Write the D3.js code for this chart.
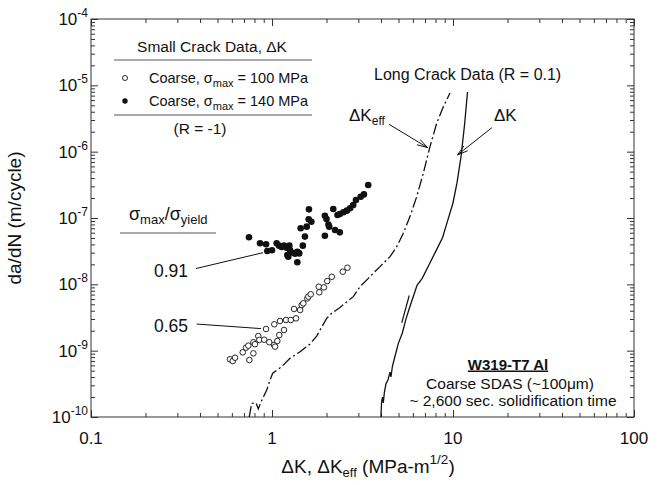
<!DOCTYPE html>
<html>
<head>
<meta charset="utf-8">
<script src="https://cdn.jsdelivr.net/npm/d3@7"></script>
<style>
  body { margin: 0; background: #fff; }
  text { font-family: "Liberation Sans", Arial, Helvetica, sans-serif; fill: #111; }
</style>
</head>
<body>
<svg id="chart" width="661" height="485"></svg>
<script>
// small crack data, sigma_max = 100 MPa (open circles)
var openK = [0.586, 0.607, 0.625, 0.689, 0.718, 0.74, 0.789, 0.75, 0.789, 0.805, 0.84, 0.851, 0.906,
  0.927, 0.966, 1.026, 1.04, 1.07, 1.097, 1.165, 1.03, 1.107, 1.195, 1.27, 1.357, 1.324, 1.43, 1.459,
  1.49, 1.567, 1.588, 1.636, 1.812, 1.825, 1.936, 2.02, 2.14, 2.46, 2.61];
var openRate = [7.41e-10, 6.98e-10, 7.83e-10, 9.44e-10, 1.11e-9, 1.19e-9, 9.12e-10, 7.23e-10, 1.34e-9,
  1.25e-9, 1.66e-9, 1.45e-9, 1.46e-9, 2.12e-9, 1.34e-9, 1.22e-9, 1.15e-9, 1.4e-9, 1.72e-9, 2.05e-9,
  2.5e-9, 2.8e-9, 2.9e-9, 2.9e-9, 3.07e-9, 4.25e-9, 4.1e-9, 4.88e-9, 5.17e-9, 6.15e-9, 6.52e-9,
  7.08e-9, 9.2e-9, 7.59e-9, 9.0e-9, 1.12e-8, 1.3e-8, 1.55e-8, 1.78e-8];

// small crack data, sigma_max = 140 MPa (filled circles)
var filledK = [0.746, 0.859, 0.927, 0.942, 1.0, 1.061, 1.093, 1.13, 1.165, 1.205, 1.247, 1.257, 1.30,
  1.215, 1.23, 1.34, 1.38, 1.415, 1.38, 1.48, 1.52, 1.44, 1.555, 1.60, 1.595, 1.65, 1.96, 1.96, 2.0,
  2.05, 2.07, 2.18, 2.23, 2.37, 2.3, 2.37, 2.48, 2.59, 2.70, 2.81, 2.91, 3.09, 3.22, 3.40];
var filledRate = [5.12e-8, 4.16e-8, 4.01e-8, 3.18e-8, 3.26e-8, 4.16e-8, 3.83e-8, 3.66e-8, 3.83e-8,
  3.57e-8, 3.83e-8, 3.3e-8, 3.0e-8, 2.77e-8, 2.61e-8, 2.9e-8, 3.1e-8, 2.93e-8, 2.15e-8, 3.83e-8,
  5.24e-8, 6.99e-8, 7.4e-8, 1.35e-7, 9.55e-8, 8.8e-8, 5.4e-8, 1.08e-7, 9.66e-8, 8.0e-8, 7.4e-8,
  1.37e-7, 6.6e-8, 6.08e-8, 1.11e-7, 1.15e-7, 1.22e-7, 1.29e-7, 1.40e-7, 1.57e-7, 1.87e-7, 2.09e-7,
  2.27e-7, 3.15e-7];

// long crack, delta K (solid)
var longK = [4.00, 4.03, 4.08, 4.12, 4.18, 4.26, 4.37, 4.49, 4.54, 4.63, 4.77, 4.99, 5.25, 5.49, 5.80,
  6.06, 6.33, 6.76, 7.37, 8.04, 8.76, 9.35, 9.99, 10.52, 11.07, 11.58, 12.03];
var longRate = [1.0e-10, 1.68e-10, 2.0e-10, 1.63e-10, 2.38e-10, 3.14e-10, 3.61e-10, 4.76e-10, 4.01e-10,
  5.87e-10, 8.02e-10, 1.29e-9, 1.85e-9, 2.96e-9, 4.76e-9, 6.79e-9, 9.66e-9, 1.23e-8, 1.97e-8, 3.17e-8,
  5.08e-8, 9.2e-8, 1.67e-7, 3.38e-7, 8.32e-7, 2.52e-6, 7.94e-6];
// short overlapping piece of the solid curve
var longFragK = [5.21, 5.73];
var longFragRate = [2.63e-9, 6.79e-9];

// long crack, delta K eff (dash-dot)
var effK = [0.749, 0.772, 0.816, 0.840, 0.869, 0.935, 0.975, 1.009, 1.131, 1.257, 1.428, 1.622, 1.766,
  1.842, 2.005, 2.137, 2.375, 2.586, 2.813, 3.063, 3.405, 3.707, 3.952, 4.486, 4.887, 5.314, 5.786,
  6.302, 6.853, 7.464, 8.127, 8.842, 9.625];
var effRate = [1.0e-10, 1.61e-10, 1.63e-10, 1.32e-10, 1.68e-10, 2.55e-10, 3.61e-10, 4.56e-10, 5.73e-10,
  7.67e-10, 9.64e-10, 1.26e-9, 1.66e-9, 2.05e-9, 3.07e-9, 3.66e-9, 4.48e-9, 5.42e-9, 6.52e-9, 9.2e-9,
  1.23e-8, 1.56e-8, 1.85e-8, 2.61e-8, 3.69e-8, 5.87e-8, 1.05e-7, 2.1e-7, 4.72e-7, 1.19e-6, 2.68e-6,
  4.76e-6, 7.66e-6];

var xTicks = [0.1, 1, 10, 100];
var xTickLabels = ["0.1", "1", "10", "100"];
var yTicks = [1e-10, 1e-9, 1e-8, 1e-7, 1e-6, 1e-5, 1e-4];

// leader lines / arrows, [dK, da/dN] end points
var lead091 = [[0.380, 1.73e-8], [0.892, 3.0e-8]];
var lead065 = [[0.384, 2.52e-9], [0.870, 2.15e-9]];
var arrowEff = [[4.44, 2.58e-6], [7.24, 1.15e-6]];
var arrowDK = [[16.4, 2.30e-6], [10.59, 8.93e-7]];

var svg = d3.select("#chart");
var pL = 91, pR = 634, pT = 19, pB = 417;

var x = d3.scaleLog().domain([0.1, 100]).range([pL, pR]);
var y = d3.scaleLog().domain([1e-10, 1e-4]).range([pB, pT]);

var xMinor = x.ticks().filter(function(d) {
  return Math.abs(Math.log10(d) - Math.round(Math.log10(d))) > 1e-6;
});
var yMinor = y.ticks().filter(function(d) {
  return Math.abs(Math.log10(d) - Math.round(Math.log10(d))) > 1e-6;
});

function ticks(axisFn, scale, values, size, tr) {
  svg.append("g")
    .attr("transform", tr)
    .call(axisFn(scale).tickValues(values).tickSize(size).tickSizeOuter(0).tickFormat(""))
    .call(function(g) { g.select(".domain").remove(); })
    .selectAll("line").attr("stroke", "#333");
}
ticks(d3.axisBottom, x, xTicks, -7, "translate(0," + pB + ")");
ticks(d3.axisBottom, x, xMinor, -4, "translate(0," + pB + ")");
ticks(d3.axisTop, x, xTicks, -7, "translate(0," + pT + ")");
ticks(d3.axisTop, x, xMinor, -4, "translate(0," + pT + ")");
ticks(d3.axisLeft, y, yTicks, -7, "translate(" + pL + ",0)");
ticks(d3.axisLeft, y, yMinor, -4, "translate(" + pL + ",0)");
ticks(d3.axisRight, y, yTicks, -7, "translate(" + pR + ",0)");
ticks(d3.axisRight, y, yMinor, -4, "translate(" + pR + ",0)");

svg.append("rect")
  .attr("x", pL).attr("y", pT)
  .attr("width", pR - pL).attr("height", pB - pT)
  .attr("fill", "none").attr("stroke", "#333").attr("stroke-width", 1);

// tick labels
svg.selectAll(".xlab").data(xTicks).join("text")
  .attr("class", "xlab")
  .attr("x", function(d) { return x(d); })
  .attr("y", 444)
  .attr("text-anchor", "middle")
  .style("font-size", "17px")
  .text(function(d, i) { return xTickLabels[i]; });

svg.selectAll(".ylab").data(yTicks).join("text")
  .attr("class", "ylab")
  .attr("x", 88)
  .attr("y", function(d) { return y(d) + 6; })
  .attr("text-anchor", "end")
  .style("font-size", "17px")
  .each(function(d) {
    var t = d3.select(this);
    t.append("tspan").text("10");
    t.append("tspan").attr("dy", -8).style("font-size", "12px").text(Math.round(Math.log10(d)));
  });

// axis titles
var xt = svg.append("text").attr("x", 368).attr("y", 473).attr("text-anchor", "middle").style("font-size", "19px");
xt.append("tspan").text("\u0394K, \u0394K");
xt.append("tspan").attr("dy", 4).style("font-size", "13px").text("eff");
xt.append("tspan").attr("dy", -4).text(" (MPa-m");
xt.append("tspan").attr("dy", -9).style("font-size", "13.5px").text("1/2");
xt.append("tspan").attr("dy", 9).text(")");

svg.append("text")
  .attr("transform", "translate(21,218) rotate(-90)")
  .attr("text-anchor", "middle")
  .style("font-size", "19px")
  .text("da/dN (m/cycle)");

// curves
var line = d3.line()
  .x(function(d) { return x(d[0]); })
  .y(function(d) { return y(d[1]); });

svg.append("path")
  .datum(effK.map(function(k, i) { return [k, effRate[i]]; }))
  .attr("d", line)
  .attr("fill", "none").attr("stroke", "#111").attr("stroke-width", 1.3)
  .attr("stroke-dasharray", "11,3,2,3");

svg.append("path")
  .datum(longK.map(function(k, i) { return [k, longRate[i]]; }))
  .attr("d", line)
  .attr("fill", "none").attr("stroke", "#111").attr("stroke-width", 1.3);

svg.append("path")
  .datum(longFragK.map(function(k, i) { return [k, longFragRate[i]]; }))
  .attr("d", line)
  .attr("fill", "none").attr("stroke", "#111").attr("stroke-width", 1.2);

// points
svg.selectAll(".open").data(openK).join("circle")
  .attr("class", "open")
  .attr("cx", function(d) { return x(d); })
  .attr("cy", function(d, i) { return y(openRate[i]); })
  .attr("r", 2.8)
  .attr("fill", "#fff").attr("stroke", "#111").attr("stroke-width", 0.9);

svg.selectAll(".filled").data(filledK).join("circle")
  .attr("class", "filled")
  .attr("cx", function(d) { return x(d); })
  .attr("cy", function(d, i) { return y(filledRate[i]); })
  .attr("r", 3.3)
  .attr("fill", "#111");

// leaders and arrows
function seg(p) {
  svg.append("line")
    .attr("x1", x(p[0][0])).attr("y1", y(p[0][1]))
    .attr("x2", x(p[1][0])).attr("y2", y(p[1][1]))
    .attr("stroke", "#111").attr("stroke-width", 1);
}
function arrow(p) {
  seg(p);
  var x1 = x(p[0][0]), y1 = y(p[0][1]), x2 = x(p[1][0]), y2 = y(p[1][1]);
  var a = Math.atan2(y1 - y2, x1 - x2), len = 11, spread = 0.28;
  [-spread, spread].forEach(function(s) {
    svg.append("line")
      .attr("x1", x2).attr("y1", y2)
      .attr("x2", x2 + len * Math.cos(a + s)).attr("y2", y2 + len * Math.sin(a + s))
      .attr("stroke", "#111").attr("stroke-width", 1);
  });
}
seg(lead091);
seg(lead065);
arrow(arrowEff);
arrow(arrowDK);

// legend
svg.append("text").attr("x", 212).attr("y", 52).attr("text-anchor", "middle")
  .style("font-size", "15.5px").text("Small Crack Data, \u0394K");
svg.append("line").attr("x1", 114).attr("x2", 312).attr("y1", 60).attr("y2", 60)
  .attr("stroke", "#555").attr("stroke-width", 1.2);
svg.append("line").attr("x1", 114).attr("x2", 312).attr("y1", 115).attr("y2", 115)
  .attr("stroke", "#555").attr("stroke-width", 1.2);
svg.append("circle").attr("cx", 125).attr("cy", 78).attr("r", 2.5)
  .attr("fill", "#fff").attr("stroke", "#111").attr("stroke-width", 0.9);
svg.append("circle").attr("cx", 125).attr("cy", 101).attr("r", 2.7).attr("fill", "#111");

function legendRow(yy, label, val) {
  var t = svg.append("text").attr("x", 149).attr("y", yy).style("font-size", "14.5px");
  t.append("tspan").text(label + "\u03c3");
  t.append("tspan").attr("dy", 4).style("font-size", "11px").text("max");
  t.append("tspan").attr("dy", -4).text(" = " + val + " MPa");
}
legendRow(83, "Coarse,  ", 100);
legendRow(106, "Coarse, ", 140);
svg.append("text").attr("x", 200).attr("y", 134).attr("text-anchor", "middle")
  .style("font-size", "15.5px").text("(R = -1)");

// sigma ratio label
var sr = svg.append("text").attr("x", 129).attr("y", 220).style("font-size", "18px");
sr.append("tspan").text("\u03c3");
sr.append("tspan").attr("dy", 4).style("font-size", "13px").text("max");
sr.append("tspan").attr("dy", -4).text("/\u03c3");
sr.append("tspan").attr("dy", 4).style("font-size", "13px").text("yield");
svg.append("line").attr("x1", 120).attr("x2", 216).attr("y1", 233).attr("y2", 233)
  .attr("stroke", "#555").attr("stroke-width", 1.2);

svg.append("text").attr("x", 154).attr("y", 277).style("font-size", "17.5px").text("0.91");
svg.append("text").attr("x", 154).attr("y", 331.5).style("font-size", "17.5px").text("0.65");

// long crack labels
svg.append("text").attr("x", 374).attr("y", 79.5).style("font-size", "16px").text("Long Crack Data  (R = 0.1)");
var ke = svg.append("text").attr("x", 349).attr("y", 121).style("font-size", "17px");
ke.append("tspan").text("\u0394K");
ke.append("tspan").attr("dy", 4).style("font-size", "12px").text("eff");
svg.append("text").attr("x", 494).attr("y", 121).style("font-size", "17px").text("\u0394K");

// material info
svg.append("text").attr("x", 508).attr("y", 369.5).attr("text-anchor", "middle")
  .style("font-size", "15px").style("font-weight", "bold").style("text-decoration", "underline")
  .text("W319-T7 Al");
svg.append("text").attr("x", 510).attr("y", 389).attr("text-anchor", "middle")
  .style("font-size", "15.5px").text("Coarse SDAS (~100\u03bcm)");
svg.append("text").attr("x", 513).attr("y", 405.5).attr("text-anchor", "middle")
  .style("font-size", "15.5px").text("~ 2,600 sec. solidification time");
</script>
</body>
</html>
